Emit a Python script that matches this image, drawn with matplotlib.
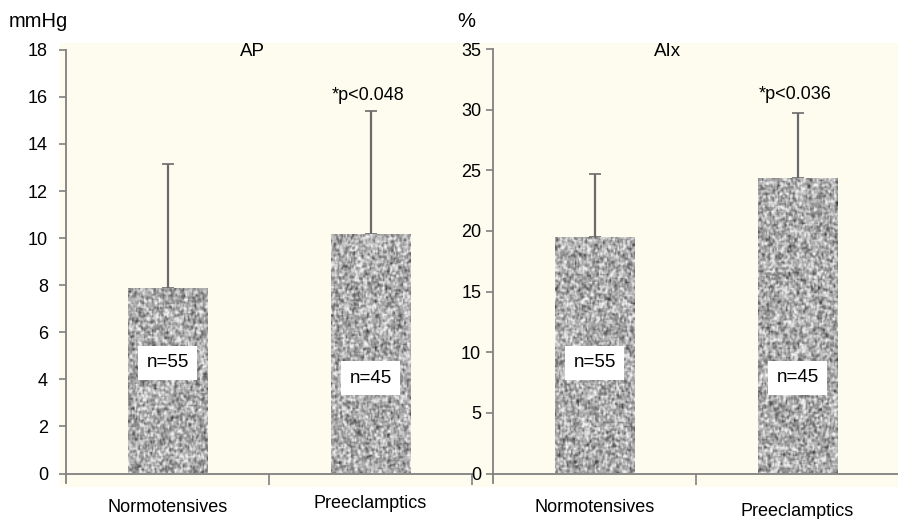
import numpy as np
import matplotlib
matplotlib.use("Agg")
import matplotlib.pyplot as plt
from matplotlib.patches import Rectangle
from matplotlib.lines import Line2D

plt.rcParams['font.family'] = ['Liberation Sans', 'DejaVu Sans']

# ---- data ----
categories = ["Normotensives", "Preeclamptics"]
ap_means = [7.88, 10.17]
ap_err = [5.28, 5.21]
aix_means = [19.5, 24.35]
aix_err = [5.2, 5.4]
n_labels = ["n=55", "n=45"]
ap_p = "*p<0.048"
aix_p = "*p<0.036"
ap_ticks = [0, 2, 4, 6, 8, 10, 12, 14, 16, 18]
aix_ticks = [0, 5, 10, 15, 20, 25, 30, 35]

W, H = 898, 519
fig = plt.figure(figsize=(W / 100, H / 100), dpi=100)
fig.patch.set_facecolor('white')

# pale yellow background spanning both panels
fig.add_artist(Rectangle((60 / W, 1 - 487 / H), (W - 60) / W, (487 - 43) / H,
                         transform=fig.transFigure, facecolor='#fdfcee',
                         edgecolor='none', zorder=-10))

spine_col = '#808080'
rng = np.random.default_rng(7)


def texture(rows, cols):
    n = rng.normal(size=(rows + 2, cols + 2))
    k = (n[:-2, 1:-1] + 2 * n[1:-1, 1:-1] + n[2:, 1:-1] + 0.6 * n[1:-1, :-2]
         + 0.6 * n[1:-1, 2:]) / 5
    k = k / k.std()
    v = 0.68 + 0.14 * k
    return np.clip(v, 0.2, 0.95)


def panel(rect, means, errs, ticks, ymax, title, title_x, ptext, pgap, unit, unit_x, end_tick, ypad):
    ax = fig.add_axes(rect)
    ax.set_facecolor('none')
    x = np.arange(len(categories))
    width = 0.39
    bars = ax.bar(x, means, width=width, color='none', edgecolor='none', zorder=2)
    ax.set_xlim(-0.5, 1.5)
    ax.set_ylim(0, ymax)
    px_per_unit = rect[3] * H / ymax
    for b in bars:
        h = b.get_height()
        rows = max(int(h * px_per_unit / 1.3), 2)
        cols = int(width * rect[2] * W / 2 / 1.3)
        im = ax.imshow(texture(rows, cols), cmap='gray', vmin=0, vmax=1,
                       extent=(b.get_x(), b.get_x() + width, 0, h),
                       aspect='auto', interpolation='bilinear', zorder=2)
        im.set_clip_path(b)
    ax.errorbar(x, means, yerr=[np.zeros(len(errs)), errs], fmt='none',
                ecolor='#6a6a6a', elinewidth=1.6, capsize=4, capthick=1.2, zorder=1)
    for xi, lab, yf in zip(x, n_labels, [0.261, 0.225]):
        ax.text(xi, yf, lab, transform=ax.get_xaxis_transform(), ha='center', va='center',
                fontsize=13.5, zorder=4,
                bbox=dict(boxstyle='square,pad=0.45', facecolor='white', edgecolor='none'))
    for s in ['top', 'right']:
        ax.spines[s].set_visible(False)
    for s in ['left', 'bottom']:
        ax.spines[s].set_color(spine_col)
        ax.spines[s].set_linewidth(1.3)
    ax.set_yticks(ticks)
    ax.set_yticklabels([str(t) for t in ticks], fontsize=13)
    ax.tick_params(axis='y', direction='out', length=5, width=1.2, color=spine_col, pad=ypad)
    ax.set_xticks(x)
    ax.set_xticklabels([])
    ax.tick_params(axis='x', length=0)
    mt = [0.5, 1.5] if end_tick else [0.5]
    ax.set_xticks(mt, minor=True)
    ax.tick_params(axis='x', which='minor', direction='out', length=8, width=1.2, color=spine_col)
    ax.add_line(Line2D([0, 0], [0, -0.022], transform=ax.transAxes, color=spine_col,
                       lw=1.3, clip_on=False))
    ax.text(title_x, 0.995, title, transform=ax.transAxes, ha='center', va='center', fontsize=13.5)
    ax.annotate(ptext, xy=(1, means[1] + errs[1]), xytext=(-2, pgap),
                textcoords='offset pixels', ha='center', va='bottom', fontsize=13)
    fig.text(unit_x, 1 - 22 / H, unit, ha='left', va='center', fontsize=14.5)
    return ax


ax1 = panel([66 / W, 1 - 473.5 / H, 406 / W, 423.7 / H], ap_means, ap_err, ap_ticks, 18,
            "AP", 0.46, ap_p, 7, "mmHg", 9 / W, True, 8)
ax2 = panel([493 / W, 1 - 473.5 / H, 406 / W, 424.5 / H], aix_means, aix_err, aix_ticks, 35,
            "AIx", 0.43, aix_p, 10, "%", 457 / W, False, 3.5)

# category labels
label_y = [[508, 503], [507, 511]]
for ax, ys in zip([ax1, ax2], label_y):
    for xi, (cat, yy) in enumerate(zip(categories, ys)):
        xd = ax.transData.transform((xi, 0))[0]
        fig.text(xd / W, 1 - yy / H, cat, ha='center', va='center', fontsize=13)

fig.savefig("out.png", dpi=100, facecolor='white')
